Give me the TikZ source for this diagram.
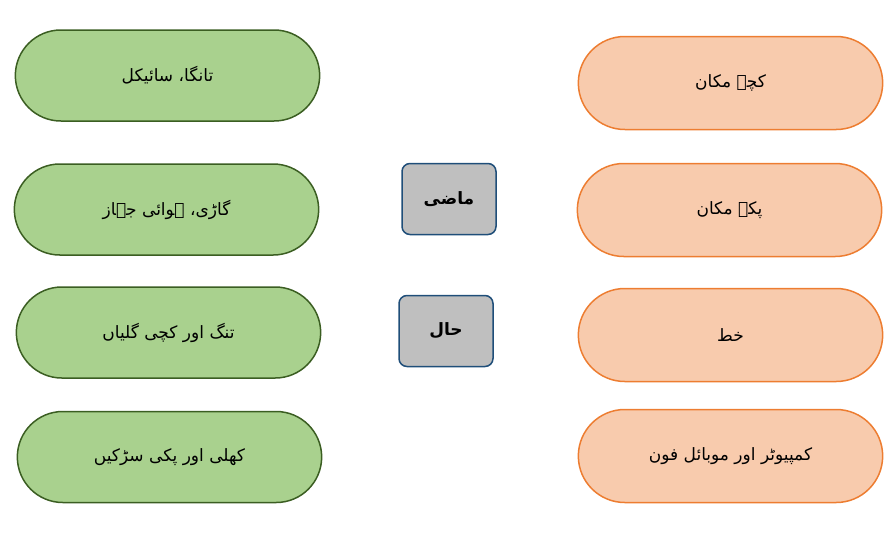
\documentclass[tikz,border=0pt]{standalone}
\usepackage{fontspec}
\usetikzlibrary{shapes.misc}
\newfontfamily\urdufont[Script=Arabic]{DejaVu Sans}
\TeXXeTstate=1
\definecolor{leafgreen}{HTML}{A9D18E}
\definecolor{leafdark}{HTML}{3B5E22}
\definecolor{peach}{HTML}{F8CBAD}
\definecolor{peachdark}{HTML}{ED7D31}
\definecolor{stonegrey}{HTML}{BFBFBF}
\definecolor{navyline}{HTML}{1F4E79}

\begin{document}
\begin{tikzpicture}
  [x=1pt, y=-1pt,
   greenbox/.style={rounded rectangle, fill=leafgreen, draw=leafdark, line width=1.5pt,
     minimum width=311pt, minimum height=91pt, font=\urdufont\fontsize{17}{20}\selectfont},
   orangebox/.style={rounded rectangle, fill=peach, draw=peachdark, line width=1.5pt,
     minimum width=311pt, minimum height=93pt, font=\urdufont\fontsize{17}{20}\selectfont},
   timebox/.style={rectangle, rounded corners=8pt, fill=stonegrey, draw=navyline, line width=1.5pt,
     minimum width=94pt, minimum height=71pt, font=\urdufont\bfseries\fontsize{17}{20}\selectfont}]

  \useasboundingbox (0,0) rectangle (896,533);

  % left column
  \node[greenbox] (g1) at (167.5,75.5) {\beginR تانگا، سائیکل\endR};
  \node[greenbox] (g2) at (166.5,209.5) {\beginR گاڑی، ہوائی جہاز\endR};
  \node[greenbox] (g3) at (168.5,332.5) {\beginR تنگ اور کچی گلیاں\endR};
  \node[greenbox] (g4) at (169.5,457) {\beginR کھلی اور پکی سڑکیں\endR};

  % middle
  \node[timebox] (t1) at (449,199) {\beginR ماضی\endR};
  \node[timebox] (t2) at (446,331) {\beginR حال\endR};

  % right column
  \node[orangebox] (o1) at (730.5,83) {\beginR کچے مکان\endR};
  \node[orangebox] (o2) at (729.5,210) {\beginR پکے مکان\endR};
  \node[orangebox] (o3) at (730.5,335) {\beginR خط\endR};
  \node[orangebox] (o4) at (730.5,456) {\beginR کمپیوٹر اور موبائل فون\endR};
\end{tikzpicture}
\end{document}
